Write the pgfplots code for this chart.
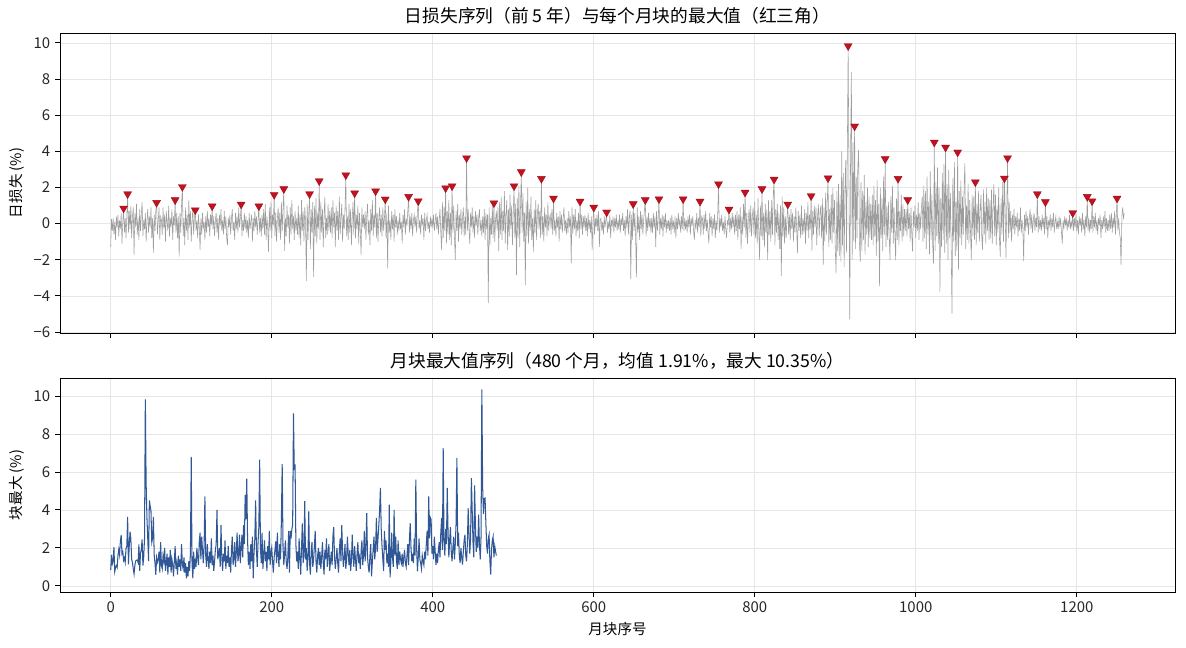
\documentclass[border=0pt]{standalone}
\usepackage{pgfplots}
\pgfplotsset{compat=1.18}
\usepackage{pgfplotstable}
\usepackage{fontspec}
\setmainfont{Noto Sans CJK SC}
\definecolor{lossgray}{RGB}{158,158,158}
\definecolor{tric}{RGB}{192,18,32}
\definecolor{blk}{RGB}{48,88,150}
\definecolor{gridc}{RGB}{230,230,230}

% daily losses (%), 60 blocks x 21 days
\pgfplotstableread[row sep=\\]{
y\\
-1.28\\ 0.25\\ -0.4\\ 0.3\\ -0.6\\ 0.1\\ -0.9\\ 0.4\\ -0.2\\ 0.5\\ -0.7\\ 0.2\\ -0.3\\ 0.6\\ -1.1\\ 0.1\\ 0.85\\ -0.5\\ 0.3\\ -0.8\\ 0.4\\
1.64\\ -0.5\\ 0.7\\ -0.3\\ 1.0\\ -0.8\\ 0.4\\ 0.9\\ -1.74\\ 0.6\\ -0.2\\ 1.1\\ -0.6\\ 0.3\\ -0.9\\ 0.8\\ -0.4\\ 0.5\\ 1.2\\ -0.7\\ 0.2\\
-0.3\\ 0.6\\ -1.0\\ 0.2\\ 0.8\\ -0.5\\ 0.4\\ -0.2\\ 0.9\\ -0.8\\ 0.3\\ -1.6\\ 0.5\\ -0.4\\ 0.7\\ 1.16\\ -0.6\\ 0.1\\ 0.9\\ -0.9\\ 0.4\\
0.2\\ -0.6\\ 0.9\\ -0.3\\ 0.5\\ -1.0\\ 0.7\\ 0.1\\ -0.4\\ 1.0\\ -0.7\\ 0.3\\ -0.2\\ 0.8\\ -0.9\\ 0.4\\ -0.1\\ 1.31\\ -0.5\\ 0.6\\ -0.8\\
0.4\\ -1.83\\ 0.6\\ -0.5\\ 1.1\\ 2.04\\ -0.7\\ 0.3\\ -1.2\\ 0.9\\ -0.4\\ 0.5\\ -0.9\\ 1.3\\ -0.2\\ 0.7\\ -1.0\\ 0.2\\ 0.8\\ -0.6\\ 0.4\\
0.75\\ -0.4\\ 0.2\\ -0.8\\ 0.5\\ -0.2\\ -1.46\\ 0.3\\ -0.6\\ 0.6\\ -0.3\\ 0.1\\ -0.9\\ 0.4\\ -0.5\\ 0.7\\ -0.2\\ 0.3\\ -0.7\\ 0.5\\ -0.1\\
0.97\\ -0.3\\ 0.4\\ -0.7\\ 0.2\\ 0.6\\ -0.5\\ 0.3\\ -0.9\\ 0.5\\ -0.1\\ 0.8\\ -0.4\\ 0.2\\ -0.6\\ 0.7\\ -0.3\\ 0.4\\ -0.8\\ -1.18\\ 0.3\\
-0.2\\ 0.5\\ -0.6\\ 0.3\\ 0.8\\ -0.4\\ 0.1\\ -0.9\\ 0.6\\ -0.3\\ 0.4\\ -0.5\\ 0.9\\ -0.2\\ 0.3\\ 1.07\\ -0.7\\ 0.2\\ -0.4\\ 0.6\\ -0.3\\
0.4\\ -0.5\\ 0.2\\ -0.8\\ 0.6\\ -0.3\\ 0.1\\ 0.5\\ -1.0\\ 0.3\\ -0.4\\ 0.7\\ -0.2\\ 0.4\\ -0.6\\ 0.2\\ 0.97\\ -0.5\\ 0.3\\ -0.7\\ 0.5\\
-0.3\\ 0.8\\ -0.6\\ 1.1\\ -0.9\\ 0.4\\ -0.2\\ -1.55\\ 0.9\\ -0.4\\ 1.2\\ -0.8\\ 0.5\\ -0.1\\ 1.60\\ -0.7\\ 0.6\\ -1.0\\ 0.3\\ 0.9\\ -0.5\\
0.6\\ -0.9\\ 1.2\\ -0.4\\ 0.8\\ 1.92\\ -1.5\\ 0.3\\ -0.7\\ 1.0\\ -0.2\\ 0.5\\ -1.1\\ 0.9\\ -0.6\\ 1.3\\ -0.3\\ 0.4\\ -0.9\\ 0.7\\ -0.4\\
0.3\\ -0.6\\ 1.0\\ -0.8\\ 0.5\\ -1.2\\ 1.3\\ -0.4\\ 0.7\\ -1.0\\ 0.9\\ 0.2\\ -3.16\\ 1.1\\ -0.9\\ 0.6\\ 1.64\\ -1.4\\ 0.8\\ -0.5\\ 1.2\\
-2.94\\ 1.0\\ -0.7\\ 1.4\\ -1.1\\ 0.6\\ -0.3\\ 2.36\\ -0.9\\ 1.2\\ -0.5\\ 0.8\\ -1.3\\ 0.4\\ 1.5\\ -0.8\\ 0.3\\ -0.6\\ 1.1\\ -0.4\\ 0.7\\
-0.5\\ 0.9\\ -0.8\\ 1.3\\ -0.2\\ 0.6\\ -1.3\\ 1.0\\ -0.4\\ 0.7\\ -0.9\\ 1.5\\ -0.6\\ 0.3\\ 1.1\\ -1.0\\ 0.5\\ -0.3\\ 0.8\\ 2.69\\ -0.7\\
0.4\\ -0.9\\ 1.1\\ -0.5\\ 0.8\\ -1.2\\ 0.3\\ 1.2\\ -0.6\\ 1.69\\ -0.8\\ 0.5\\ -0.3\\ 1.0\\ -1.1\\ 0.6\\ -0.4\\ -1.74\\ 0.9\\ -0.2\\ 0.5\\
-0.3\\ 0.7\\ -0.9\\ 0.4\\ 1.1\\ -0.6\\ 0.2\\ -1.2\\ 0.8\\ -0.4\\ 1.3\\ -0.7\\ 0.5\\ -0.2\\ 1.80\\ -0.8\\ 0.6\\ -1.0\\ 0.3\\ 0.9\\ -0.5\\
0.5\\ -0.7\\ 0.9\\ -0.4\\ 0.3\\ 1.35\\ -0.8\\ 0.6\\ -2.48\\ 1.0\\ -0.5\\ 0.2\\ -0.9\\ 0.7\\ -0.3\\ 0.5\\ -1.0\\ 0.8\\ -0.2\\ 0.4\\ -0.6\\
0.2\\ -0.4\\ 0.6\\ -0.3\\ 0.1\\ -1.1\\ 0.5\\ -0.2\\ 0.8\\ -0.6\\ 0.3\\ -0.1\\ 0.7\\ 1.49\\ -0.5\\ 0.4\\ -0.3\\ 0.6\\ -0.7\\ 0.2\\ 0.5\\
-0.2\\ 0.4\\ -0.5\\ 0.7\\ 1.25\\ -0.3\\ 0.2\\ -0.6\\ 0.5\\ -0.1\\ 0.3\\ -0.9\\ 0.6\\ -0.4\\ 0.2\\ 0.5\\ -0.3\\ 0.1\\ -0.5\\ 0.4\\ -0.2\\
0.3\\ -0.2\\ 0.5\\ -0.4\\ 0.1\\ 0.6\\ -0.3\\ 0.4\\ -0.6\\ 0.2\\ 0.8\\ -0.5\\ -1.46\\ 1.2\\ -0.8\\ 0.9\\ -0.4\\ 1.97\\ -1.1\\ 0.7\\ -0.6\\
1.3\\ -0.9\\ 0.6\\ -1.2\\ 2.08\\ -0.5\\ 1.0\\ -0.8\\ -2.0\\ 0.7\\ -0.4\\ 1.1\\ -1.0\\ 0.5\\ -0.3\\ 0.8\\ -0.6\\ 0.3\\ 0.9\\ -0.7\\ 0.4\\
-0.6\\ 3.63\\ -0.4\\ 0.8\\ -0.3\\ -1.1\\ 0.6\\ -0.2\\ 0.9\\ -0.5\\ 0.4\\ -0.8\\ 0.7\\ -0.1\\ 0.5\\ -0.6\\ 0.3\\ 0.8\\ -0.4\\ 0.2\\ -0.7\\
0.4\\ -0.5\\ 0.8\\ -0.9\\ 0.6\\ -0.3\\ 0.5\\ -4.38\\ 0.9\\ -1.2\\ 0.3\\ -0.6\\ 1.0\\ -0.8\\ 1.14\\ -1.0\\ 0.2\\ 0.7\\ -0.4\\ 0.9\\ -1.5\\
1.2\\ -0.6\\ 1.5\\ -0.9\\ 0.7\\ -0.4\\ 1.8\\ -1.1\\ 0.5\\ 1.3\\ -1.46\\ 0.8\\ -0.7\\ 1.6\\ -0.3\\ 1.0\\ -1.2\\ 0.6\\ 2.08\\ -0.8\\ 1.1\\
-2.85\\ 1.4\\ -0.8\\ 2.1\\ -1.3\\ 0.9\\ 2.86\\ -0.5\\ 1.7\\ -1.0\\ 0.6\\ -3.4\\ 1.2\\ -0.7\\ 2.0\\ -1.1\\ 0.8\\ -0.4\\ 1.5\\ -0.9\\ 0.3\\
-1.55\\ 0.8\\ -0.5\\ 1.3\\ -0.9\\ 0.6\\ 1.1\\ -0.3\\ 0.7\\ -0.8\\ 2.49\\ -0.6\\ 0.4\\ -1.0\\ 0.9\\ -0.2\\ 0.5\\ -0.7\\ 1.2\\ -0.4\\ 0.3\\
0.5\\ -0.3\\ 0.8\\ -0.6\\ 1.40\\ -0.4\\ 0.2\\ -0.7\\ 0.6\\ -0.2\\ 0.4\\ -1.0\\ 0.7\\ -0.3\\ 0.5\\ -0.5\\ 0.3\\ 0.9\\ -0.4\\ 0.2\\ -0.6\\
0.3\\ -0.5\\ 0.7\\ -0.2\\ 0.4\\ -2.2\\ 0.9\\ -0.6\\ 0.5\\ -0.3\\ 0.8\\ -0.7\\ 0.2\\ -0.4\\ 0.6\\ -0.8\\ 1.23\\ -0.3\\ 0.5\\ -0.6\\ 0.4\\
-0.2\\ 0.5\\ -0.4\\ 0.3\\ -0.7\\ 0.6\\ -0.3\\ 0.2\\ -0.5\\ 0.4\\ -1.46\\ 0.1\\ 0.90\\ -0.6\\ 0.3\\ -0.2\\ 0.5\\ -0.4\\ 0.7\\ -1.28\\ 0.2\\
0.3\\ -0.4\\ 0.1\\ -0.6\\ 0.4\\ -0.2\\ 0.2\\ 0.63\\ -0.5\\ 0.1\\ -0.3\\ 0.5\\ -0.8\\ 0.2\\ -0.1\\ 0.4\\ -0.5\\ 0.3\\ -0.2\\ 0.5\\ -0.4\\
0.2\\ -0.3\\ 0.5\\ -0.5\\ 0.3\\ -0.1\\ 0.6\\ -0.4\\ 0.2\\ -0.7\\ 0.4\\ -0.2\\ 0.8\\ -0.6\\ 0.3\\ 0.7\\ -3.08\\ 0.5\\ -0.9\\ 1.09\\ -0.4\\
0.6\\ -0.8\\ -2.97\\ 0.9\\ -0.5\\ 0.4\\ -0.9\\ 0.7\\ -0.3\\ 0.5\\ -0.6\\ 0.2\\ 0.8\\ 1.31\\ -0.7\\ 0.4\\ -0.4\\ 0.6\\ -0.2\\ 0.3\\ -0.5\\
0.3\\ -0.5\\ 0.6\\ -0.2\\ 0.4\\ -1.28\\ 0.7\\ -0.4\\ 0.2\\ 1.36\\ -0.6\\ 0.3\\ -0.3\\ 0.5\\ -0.7\\ 0.4\\ -0.2\\ 0.6\\ -0.5\\ 0.2\\ -0.3\\
0.2\\ -0.4\\ 0.3\\ -0.6\\ 0.5\\ -0.2\\ 0.1\\ -0.5\\ 0.4\\ -0.8\\ 0.3\\ -0.3\\ 0.6\\ -0.1\\ 0.2\\ -0.5\\ 0.4\\ -0.3\\ 1.36\\ -0.4\\ 0.3\\
-0.3\\ 0.2\\ -0.5\\ 0.4\\ -0.2\\ 0.5\\ -0.6\\ 0.3\\ -0.1\\ 0.4\\ -0.4\\ -0.9\\ 0.2\\ -0.3\\ 0.6\\ -0.5\\ 0.3\\ -0.2\\ 1.23\\ -0.7\\ 0.4\\
0.3\\ -0.6\\ 0.5\\ -0.3\\ 0.7\\ -0.4\\ 0.2\\ -0.5\\ -1.1\\ 0.6\\ -0.2\\ 0.4\\ -0.7\\ 0.3\\ -0.3\\ 0.5\\ -0.8\\ 0.2\\ -0.4\\ 0.6\\ 2.19\\
-0.5\\ 0.3\\ -0.2\\ 0.5\\ -0.4\\ 0.1\\ -0.6\\ 0.4\\ -0.3\\ -0.8\\ 0.2\\ -0.1\\ 0.79\\ -0.5\\ 0.3\\ -0.3\\ 0.6\\ -0.2\\ 0.4\\ -0.6\\ 0.5\\
-0.4\\ 0.7\\ -0.9\\ 0.5\\ -0.3\\ 0.9\\ -1.4\\ 0.4\\ -0.6\\ 1.1\\ -0.2\\ 1.73\\ -0.8\\ 0.6\\ -1.1\\ 0.3\\ 0.8\\ -0.5\\ 1.0\\ -0.7\\ 0.4\\
0.9\\ -0.6\\ 1.2\\ -0.8\\ 0.5\\ -1.1\\ 1.4\\ -0.4\\ -2.0\\ 1.0\\ -0.7\\ 1.92\\ -0.9\\ 0.6\\ -1.3\\ 1.1\\ -0.5\\ 0.8\\ -2.0\\ 1.3\\ -0.6\\
0.7\\ -1.0\\ 1.3\\ -0.6\\ 1.6\\ 2.45\\ -1.2\\ 0.8\\ -0.5\\ 1.1\\ -0.9\\ 0.6\\ -1.4\\ 1.0\\ -2.9\\ 1.5\\ -0.7\\ 0.9\\ -1.1\\ 0.4\\ -0.8\\
0.3\\ 1.07\\ -0.6\\ 0.5\\ -0.9\\ 0.8\\ -0.3\\ 0.6\\ -1.0\\ 0.4\\ -0.5\\ 0.9\\ -0.2\\ -1.65\\ 0.7\\ -0.4\\ 0.5\\ -0.8\\ 1.0\\ -0.6\\ 0.3\\
-0.5\\ 0.8\\ -1.1\\ 0.6\\ -0.4\\ 1.2\\ -0.8\\ 0.5\\ -0.3\\ 1.53\\ -1.5\\ 0.7\\ -0.6\\ 1.0\\ -0.2\\ 0.9\\ -1.2\\ 0.4\\ 1.1\\ -0.7\\ 0.6\\
1.0\\ -0.8\\ 1.4\\ -2.3\\ 0.9\\ -1.0\\ 1.7\\ -0.6\\ 1.2\\ 2.52\\ -1.3\\ 0.8\\ -0.9\\ 1.6\\ -1.1\\ 2.0\\ -0.5\\ 1.3\\ -1.4\\ -2.75\\ 1.8\\
-1.5\\ 2.2\\ -1.8\\ 1.6\\ -2.1\\ 4.0\\ -1.2\\ 2.8\\ -2.4\\ 1.9\\ 3.5\\ -1.6\\ 4.2\\ 9.83\\ 2.5\\ -5.3\\ 3.8\\ 8.4\\ -2.0\\ 4.5\\ -1.0\\
5.39\\ -1.4\\ 2.6\\ -0.8\\ 3.2\\ 4.1\\ -1.0\\ -2.1\\ 2.3\\ -1.5\\ 1.8\\ -0.9\\ 2.7\\ -1.7\\ 1.2\\ -0.6\\ 2.0\\ -1.3\\ 1.5\\ -0.8\\ 1.1\\
-0.9\\ 1.6\\ -1.2\\ 2.1\\ -0.7\\ 1.3\\ -1.8\\ 2.4\\ -1.0\\ 1.1\\ -3.45\\ 2.0\\ -0.8\\ 1.4\\ -1.5\\ 2.6\\ -0.6\\ 3.58\\ -1.3\\ 1.0\\ -0.9\\
1.2\\ -0.8\\ -2.0\\ 1.5\\ -0.5\\ 2.1\\ -1.1\\ 0.9\\ -0.6\\ -2.0\\ 1.4\\ -0.9\\ 2.49\\ -1.2\\ 0.7\\ -0.4\\ 1.6\\ -1.0\\ 1.1\\ -0.7\\ 0.8\\
-0.4\\ 0.8\\ -0.7\\ 1.31\\ -0.3\\ 0.6\\ -1.0\\ 0.9\\ -0.5\\ -1.55\\ 0.7\\ -0.2\\ 1.0\\ -0.8\\ 0.5\\ -0.4\\ 1.2\\ -0.9\\ 0.6\\ -0.3\\ 0.9\\
1.5\\ -1.0\\ 2.1\\ -0.8\\ 1.8\\ -1.4\\ 2.6\\ -0.6\\ 1.2\\ -1.7\\ 2.9\\ -0.9\\ 1.6\\ -1.2\\ -2.2\\ 4.50\\ -1.5\\ 2.3\\ -0.7\\ 3.1\\ -1.1\\
2.0\\ -3.77\\ 1.4\\ -1.3\\ 2.8\\ -0.9\\ 3.3\\ -1.6\\ 4.22\\ -1.1\\ 2.2\\ -2.0\\ 3.0\\ -0.8\\ 1.7\\ -1.4\\ -4.97\\ 2.5\\ -1.0\\ 3.4\\ -1.8\\
1.2\\ -1.5\\ 3.95\\ -2.57\\ 1.8\\ -0.8\\ 2.4\\ -1.2\\ 1.5\\ -0.6\\ 2.0\\ 3.35\\ -1.4\\ 1.0\\ -0.9\\ 2.2\\ -1.1\\ 1.3\\ -0.5\\ -2.0\\ 1.6\\
-0.7\\ 1.5\\ -0.9\\ 2.30\\ -1.2\\ 1.1\\ -0.5\\ 1.8\\ -1.0\\ 0.7\\ 1.6\\ -0.8\\ -1.46\\ 1.9\\ -0.6\\ 1.2\\ -1.1\\ 2.0\\ -0.4\\ 1.4\\ -0.9\\
1.3\\ -0.8\\ 1.9\\ -1.1\\ 0.9\\ 2.2\\ -0.7\\ 1.6\\ -1.2\\ 1.0\\ -0.5\\ 2.0\\ -0.9\\ -1.83\\ 1.4\\ -0.6\\ 2.3\\ -1.0\\ 2.51\\ 0.8\\ -1.92\\
0.9\\ 3.63\\ -0.8\\ 1.2\\ -0.5\\ 0.7\\ -1.0\\ 0.5\\ -0.3\\ 0.8\\ -0.6\\ 0.4\\ -0.2\\ 0.6\\ -0.7\\ 0.3\\ -0.4\\ 0.9\\ -0.5\\ 0.2\\ -0.3\\
-2.07\\ 0.5\\ -0.4\\ 0.7\\ -0.2\\ 0.4\\ -0.6\\ 0.3\\ 0.8\\ -0.3\\ 0.5\\ -0.5\\ 0.2\\ 0.6\\ -0.4\\ 0.3\\ -0.2\\ 1.64\\ -0.5\\ 0.4\\ -0.3\\
0.2\\ -0.4\\ 0.5\\ -0.2\\ 0.3\\ -0.6\\ 1.20\\ -0.3\\ 0.4\\ -0.8\\ 0.2\\ -0.1\\ 0.5\\ -0.4\\ 0.3\\ -0.2\\ 0.6\\ -0.5\\ 0.1\\ 0.4\\ -0.3\\
0.1\\ -0.3\\ 0.4\\ -0.2\\ 0.3\\ -0.5\\ -1.1\\ 0.2\\ -0.3\\ 0.4\\ -0.1\\ 0.3\\ -0.4\\ 0.2\\ -0.2\\ 0.5\\ -0.3\\ 0.1\\ -0.2\\ 0.59\\ -0.4\\
0.3\\ -0.2\\ 0.5\\ -0.4\\ 0.2\\ -0.6\\ 0.4\\ -0.1\\ 0.3\\ -0.5\\ 0.6\\ -0.3\\ 0.2\\ -0.7\\ 0.4\\ -0.2\\ 1.49\\ -0.4\\ 0.3\\ -0.5\\ 0.2\\
-0.3\\ 1.25\\ -0.5\\ 0.4\\ -0.2\\ 0.6\\ -0.4\\ 0.2\\ -0.6\\ 0.3\\ -0.1\\ 0.5\\ -0.8\\ 0.2\\ -0.3\\ 0.4\\ -0.2\\ 0.7\\ -0.5\\ 0.3\\ -0.4\\
0.2\\ -0.4\\ 0.5\\ -0.3\\ 0.6\\ -0.5\\ 0.3\\ -0.2\\ 0.7\\ -0.6\\ 0.4\\ 1.40\\ -0.4\\ 0.3\\ -0.5\\ -0.8\\ -2.3\\ 0.4\\ 0.9\\ 0.3\\ 0.57\\
}\daily

% monthly block maxima (first 60 = red triangles)
\pgfplotstableread[row sep=\\]{
d v\\
16 0.85\\ 21 1.64\\ 57 1.16\\ 80 1.31\\ 89 2.04\\ 105 0.75\\ 126 0.97\\ 162 1.07\\ 184 0.97\\ 203 1.60\\
215 1.92\\ 247 1.64\\ 259 2.36\\ 292 2.69\\ 303 1.69\\ 329 1.80\\ 341 1.35\\ 370 1.49\\ 382 1.25\\ 416 1.97\\
424 2.08\\ 442 3.63\\ 476 1.14\\ 501 2.08\\ 510 2.86\\ 535 2.49\\ 550 1.40\\ 583 1.23\\ 600 0.90\\ 616 0.63\\
649 1.09\\ 664 1.31\\ 681 1.36\\ 711 1.36\\ 732 1.23\\ 755 2.19\\ 768 0.79\\ 788 1.73\\ 809 1.92\\ 824 2.45\\
841 1.07\\ 870 1.53\\ 891 2.52\\ 916 9.83\\ 924 5.39\\ 962 3.58\\ 978 2.49\\ 990 1.31\\ 1023 4.50\\ 1037 4.22\\
1052 3.95\\ 1074 2.30\\ 1110 2.51\\ 1114 3.63\\ 1151 1.64\\ 1161 1.20\\ 1195 0.59\\ 1213 1.49\\ 1219 1.25\\ 1250 1.40\\
}\peaks

\pgfplotstableread[row sep=\\]{
y\\
0.85\\ 1.64\\ 1.16\\ 1.31\\ 2.04\\ 0.75\\ 0.97\\ 1.07\\ 0.97\\ 1.60\\
1.92\\ 1.64\\ 2.36\\ 2.69\\ 1.69\\ 1.80\\ 1.35\\ 1.49\\ 1.25\\ 1.97\\
2.08\\ 3.63\\ 1.14\\ 2.08\\ 2.86\\ 2.49\\ 1.40\\ 1.23\\ 0.90\\ 0.63\\
1.09\\ 1.31\\ 1.36\\ 1.36\\ 1.23\\ 2.19\\ 0.79\\ 1.73\\ 1.92\\ 2.45\\
1.07\\ 1.53\\ 2.52\\ 9.83\\ 5.39\\ 3.58\\ 2.49\\ 1.31\\ 4.50\\ 4.22\\
3.95\\ 2.30\\ 2.51\\ 3.63\\ 1.64\\ 1.20\\ 0.59\\ 1.49\\ 1.25\\ 1.40\\
1.8\\ 0.7\\ 2.3\\ 1.1\\ 0.9\\ 1.6\\ 1.3\\ 2.0\\ 0.8\\ 1.2\\
1.7\\ 0.6\\ 1.5\\ 1.0\\ 1.9\\ 0.7\\ 1.4\\ 1.1\\ 0.5\\ 1.3\\
2.1\\ 0.9\\ 1.2\\ 0.6\\ 1.6\\ 1.0\\ 1.4\\ 0.8\\ 2.2\\ 1.1\\
0.9\\ 1.5\\ 0.7\\ 1.2\\ 0.4\\ 1.0\\ 0.5\\ 1.3\\ 0.8\\ 1.7\\
6.79\\ 1.2\\ 0.4\\ 1.8\\ 0.9\\ 1.3\\ 1.0\\ 2.0\\ 1.5\\ 1.1\\
2.3\\ 2.8\\ 1.4\\ 2.6\\ 1.9\\ 1.2\\ 2.1\\ 4.72\\ 1.6\\ 1.0\\
2.2\\ 1.4\\ 0.9\\ 1.8\\ 1.2\\ 2.5\\ 1.1\\ 1.6\\ 0.8\\ 1.3\\
1.9\\ 2.2\\ 4.0\\ 1.4\\ 1.7\\ 2.0\\ 1.0\\ 3.2\\ 1.5\\ 0.8\\
1.7\\ 1.3\\ 2.4\\ 0.9\\ 1.6\\ 1.2\\ 2.1\\ 1.0\\ 1.5\\ 0.7\\
1.9\\ 2.6\\ 1.1\\ 1.4\\ 2.3\\ 1.0\\ 1.8\\ 2.8\\ 1.3\\ 1.6\\
2.7\\ 1.2\\ 2.0\\ 2.7\\ 1.5\\ 3.2\\ 2.2\\ 4.8\\ 3.5\\ 5.65\\
2.4\\ 1.1\\ 1.8\\ 0.9\\ 2.2\\ 1.3\\ 2.6\\ 0.4\\ 1.7\\ 2.5\\
4.5\\ 1.9\\ 1.0\\ 2.3\\ 3.1\\ 6.65\\ 2.0\\ 1.2\\ 2.8\\ 0.9\\
1.6\\ 2.4\\ 1.3\\ 1.8\\ 0.8\\ 2.1\\ 1.4\\ 2.9\\ 1.1\\ 1.7\\
2.0\\ 1.3\\ 0.7\\ 1.5\\ 1.9\\ 2.35\\ 1.2\\ 2.8\\ 1.6\\ 1.0\\
2.2\\ 1.4\\ 3.5\\ 6.42\\ 2.1\\ 1.1\\ 1.7\\ 2.4\\ 1.3\\ 0.9\\
1.5\\ 2.9\\ 0.7\\ 2.9\\ 2.5\\ 3.0\\ 3.2\\ 9.09\\ 6.1\\ 6.4\\
2.2\\ 1.3\\ 1.8\\ 0.9\\ 2.5\\ 1.5\\ 0.6\\ 2.0\\ 3.3\\ 1.2\\
1.6\\ 4.46\\ 1.4\\ 2.0\\ 0.8\\ 1.5\\ 3.93\\ 1.2\\ 0.6\\ 1.8\\
2.3\\ 1.0\\ 1.4\\ 2.1\\ 2.9\\ 1.3\\ 0.7\\ 1.6\\ 2.0\\ 1.1\\
1.8\\ 0.9\\ 1.5\\ 2.3\\ 1.2\\ 0.6\\ 1.9\\ 1.4\\ 2.5\\ 1.0\\
1.6\\ 2.2\\ 0.8\\ 1.3\\ 1.8\\ 1.1\\ 2.6\\ 3.1\\ 1.5\\ 0.9\\
1.4\\ 2.0\\ 1.2\\ 0.7\\ 1.9\\ 2.5\\ 1.3\\ 3.2\\ 1.8\\ 1.0\\
1.5\\ 2.2\\ 0.9\\ 1.4\\ 2.6\\ 1.7\\ 1.1\\ 1.9\\ 0.8\\ 1.3\\
2.7\\ 1.6\\ 1.0\\ 2.1\\ 1.4\\ 0.8\\ 1.7\\ 2.3\\ 1.2\\ 1.5\\
0.9\\ 1.8\\ 2.4\\ 1.1\\ 1.6\\ 2.9\\ 1.3\\ 2.0\\ 3.84\\ 1.5\\
1.0\\ 0.7\\ 1.6\\ 2.2\\ 0.5\\ 1.3\\ 1.9\\ 2.6\\ 1.4\\ 2.0\\
3.58\\ 1.8\\ 2.5\\ 3.2\\ 4.0\\ 5.16\\ 3.0\\ 2.1\\ 1.4\\ 0.8\\
2.9\\ 1.9\\ 2.4\\ 1.2\\ 1.7\\ 1.0\\ 4.28\\ 0.45\\ 1.3\\ 2.8\\
1.5\\ 1.0\\ 4.0\\ 1.6\\ 2.6\\ 1.3\\ 0.9\\ 2.4\\ 1.1\\ 1.8\\
1.4\\ 1.2\\ 1.7\\ 1.0\\ 1.5\\ 1.9\\ 1.2\\ 1.0\\ 1.6\\ 2.2\\
1.1\\ 2.4\\ 3.3\\ 2.0\\ 1.3\\ 1.7\\ 1.2\\ 2.5\\ 1.6\\ 5.6\\
2.0\\ 0.77\\ 1.5\\ 2.5\\ 1.4\\ 1.2\\ 0.9\\ 1.6\\ 1.3\\ 1.1\\
1.8\\ 1.4\\ 2.2\\ 2.9\\ 1.6\\ 4.72\\ 2.5\\ 3.6\\ 3.5\\ 1.7\\
2.1\\ 1.4\\ 2.6\\ 1.83\\ 1.1\\ 1.7\\ 1.2\\ 1.9\\ 2.3\\ 1.5\\
2.8\\ 3.58\\ 1.9\\ 7.26\\ 2.3\\ 1.6\\ 3.0\\ 2.2\\ 5.16\\ 2.9\\
1.5\\ 2.4\\ 3.1\\ 1.8\\ 1.3\\ 2.0\\ 2.6\\ 1.4\\ 2.2\\ 3.3\\
6.74\\ 2.1\\ 2.8\\ 1.6\\ 1.2\\ 2.0\\ 1.5\\ 1.12\\ 1.8\\ 2.4\\
2.7\\ 1.6\\ 1.3\\ 2.2\\ 4.1\\ 2.8\\ 1.7\\ 2.5\\ 5.68\\ 4.0\\
2.3\\ 1.5\\ 5.3\\ 3.2\\ 1.8\\ 2.6\\ 2.0\\ 3.75\\ 2.2\\ 1.4\\
2.6\\ 10.35\\ 5.2\\ 3.8\\ 4.6\\ 4.63\\ 3.3\\ 2.1\\ 1.7\\ 2.5\\
2.7\\ 1.3\\ 0.6\\ 1.9\\ 2.4\\ 2.6\\ 1.5\\ 2.1\\ 1.83\\ 1.6\\
}\monthly

\pgfplotsset{
  myaxis/.style={
    scale only axis,
    width=11.15in,
    xmin=-63, xmax=1322,
    xtick={0,200,400,600,800,1000,1200},
    grid=major,
    major grid style={gridc, line width=0.6pt},
    axis line style={black, line width=0.7pt},
    tick style={black, line width=0.7pt},
    major tick length=3.5pt,
    tick align=outside,
    tick pos=left,
    ticklabel style={font=\fontsize{10.8}{12}\selectfont, text=black!85},
    label style={font=\fontsize{10.5}{12}\selectfont},
    title style={font=\fontsize{12.8}{14}\selectfont, yshift=-3.5pt},
    /pgf/number format/assume math mode=true,
    /pgf/number format/set thousands separator={},
  }
}

\begin{document}
\begin{tikzpicture}
\useasboundingbox (0,0) rectangle (11.86in,-6.48in);
\begin{axis}[myaxis,
  at={(0.60in,-0.33in)}, anchor=north west,
  height=3.00in,
  ymin=-6.05, ymax=10.55,
  ytick={-6,-4,-2,0,2,4,6,8,10},
  yticklabels={−6,−4,−2,0,2,4,6,8,10},
  xticklabels={},
  ylabel={日损失 (\%)},
  title={日损失序列（前 5 年）与每个月块的最大值（红三角）},
]
\addplot[lossgray, line width=0.4pt] table[x expr=\coordindex, y index=0] {\daily};
\addplot[only marks, mark=triangle*, mark size=3.3pt,
  mark options={rotate=180, fill=tric, draw=tric!85!black, line width=0.3pt}]
  table[x=d, y=v] {\peaks};
\end{axis}
\begin{axis}[myaxis,
  at={(0.60in,-3.78in)}, anchor=north west,
  height=2.14in,
  ymin=-0.32, ymax=10.95,
  ytick={0,2,4,6,8,10},
  xlabel={月块序号},
  ylabel={块最大 (\%)},
  title={月块最大值序列（480 个月，均值 1.91\%，最大 10.35\%）},
]
\addplot[blk, line width=0.75pt] table[x expr=\coordindex, y index=0] {\monthly};
\end{axis}
\end{tikzpicture}
\end{document}
